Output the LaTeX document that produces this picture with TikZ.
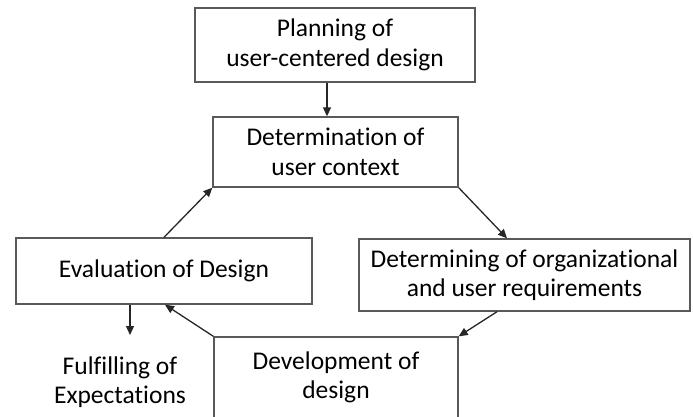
\documentclass[tikz,border=0pt]{standalone}
\usepackage{fontspec}
\setmainfont[Ligatures=NoCommon]{Carlito}
\usetikzlibrary{arrows.meta}
\begin{document}
\begin{tikzpicture}[x=1pt,y=-1pt,
  box/.style={draw=black!65, line width=1.4pt, fill=white, align=center, inner sep=0pt,
    font=\fontsize{25.5}{29.5}\selectfont},
  arr/.style={draw=black!85, line width=1.3pt, -{Triangle[length=9pt,width=8pt]}},
  plain/.style={align=center, inner sep=0pt, font=\fontsize{25.5}{29.5}\selectfont}]
\useasboundingbox (0,0) rectangle (693,417);
\clip (0,0) rectangle (693,417);
\node[box, minimum width=280, minimum height=74] (plan) at (335,45) {Planning of\\user-centered design};
\node[box, minimum width=245, minimum height=70] (det) at (335.5,152) {Determination of\\user context};
\node[box, minimum width=296, minimum height=66] (eval) at (164,271) {Evaluation of Design};
\node[box, minimum width=331, minimum height=72] (org) at (524.5,275) {Determining of organizational\\and user requirements};
\node[box, minimum width=244, minimum height=81] (dev) at (336,377.5) {Development of\\design};
\node[plain] (ful) at (120,382) {Fulfilling of\\Expectations};
\coordinate (fulend) at (130,335);
\draw[arr] ([xshift=-8pt]plan.south) -- ([xshift=-8pt]plan.south |- det.north);
\draw[arr] (det.south east) -- ([xshift=-17.5pt]org.north);
\draw[arr] ([xshift=-27.5pt]org.south) -- (dev.north east);
\draw[arr] (dev.north west) -- ([xshift=1pt]eval.south);
\draw[arr] (eval.north) -- (det.south west);
\draw[arr] ([xshift=-34pt]eval.south) -- (fulend);
\end{tikzpicture}
\end{document}
